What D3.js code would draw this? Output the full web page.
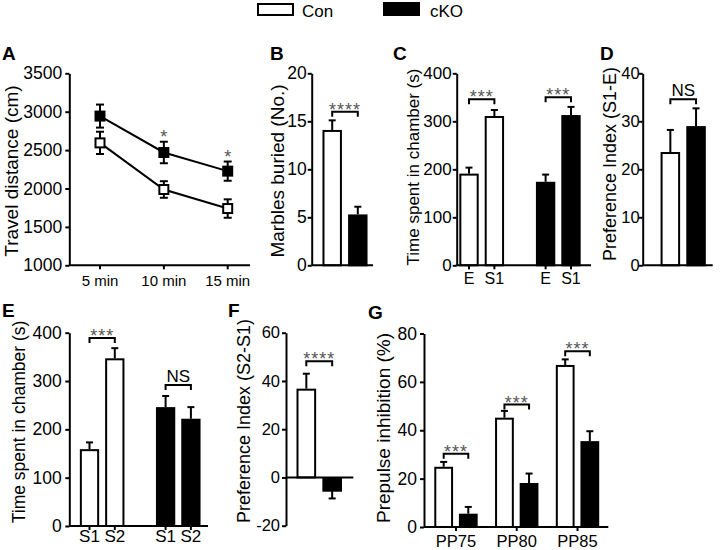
<!DOCTYPE html>
<html>
<head>
<meta charset="utf-8">
<script src="https://cdn.jsdelivr.net/npm/d3@7"></script>
<style>
  body { margin: 0; background: #fff; }
  svg { display: block; font-family: "Liberation Sans", Arial, sans-serif; }
</style>
</head>
<body>
<div id="chart"></div>
<script>
// ---- data ----
const groups = ['Con', 'cKO'];

// A: open field travel distance
const timeLabels = ['5 min', '10 min', '15 min'];
const travelCon = [2594, 1987, 1739];
const travelConErr = [145, 108, 120];
const travelCko = [2943, 2469, 2226];
const travelCkoErr = [150, 140, 125];
const travelStars = [null, 2725, 2464];
const travelTicks = [1000, 1500, 2000, 2500, 3000, 3500];

// B: marble burying
const marbles = [14.1, 5.3];
const marblesErr = [1.0, 0.8];
const marbleTicks = [0, 5, 10, 15, 20];

// C: sociability (empty vs stranger 1)
const chamberLabels = ['E', 'S1'];
const socialCon = [191, 311];
const socialConErr = [12.5, 12.5];
const socialCko = [174, 313];
const socialCkoErr = [15, 17];
const chamberTicks = [0, 100, 200, 300, 400];

// D: preference index S1-E
const prefS1E = [23.6, 29.0];
const prefS1EErr = [4.6, 3.7];
const prefTicks = [0, 10, 20, 30, 40];

// E: social novelty (stranger 1 vs stranger 2)
const novelLabels = ['S1', 'S2'];
const noveltyCon = [159, 347];
const noveltyConErr = [14, 21];
const noveltyCko = [246, 222];
const noveltyCkoErr = [23, 24];

// F: preference index S2-S1
const prefS2S1 = [36.8, -5.5];
const prefS2S1Err = [6.2, 3.2];
const pref2Ticks = [-20, 0, 20, 40, 60];

// G: prepulse inhibition
const ppiLabels = ['PP75', 'PP80', 'PP85'];
const ppiCon = [24.9, 45.2, 67.0];
const ppiConErr = [2.0, 2.8, 2.3];
const ppiCko = [5.5, 18.2, 35.5];
const ppiCkoErr = [2.8, 3.9, 4.1];
const ppiTicks = [0, 20, 40, 60, 80];

// significance marks (value = bracket height in data units)
const sigB = [{ at: 16, text: '****' }];
const sigC = [{ group: 'Con', at: 346, text: '***' }, { group: 'cKO', at: 350, text: '***' }];
const sigD = [{ at: 34.6, text: 'NS' }];
const sigE = [{ group: 'Con', at: 389, text: '***' }, { group: 'cKO', at: 292, text: 'NS' }];
const sigF = [{ at: 48.2, text: '****' }];
const sigG = [
  { group: 'PP75', at: 30.3, text: '***' },
  { group: 'PP80', at: 50.6, text: '***' },
  { group: 'PP85', at: 72.7, text: '***' }
];

// ---- drawing ----
const svg = d3.select('#chart').append('svg').attr('width', 720).attr('height', 550);
const fills = { Con: '#fff', cKO: '#000' };
const starColor = '#555';

function leftAxis(y, x, ticks, size, gap) {
  const g = svg.append('g')
    .attr('transform', 'translate(' + x + ',0)')
    .call(d3.axisLeft(y).tickValues(ticks).tickSize(4).tickPadding(gap - 4)
      .tickSizeOuter(0).tickFormat(d => String(d)));
  g.attr('font-family', null).attr('font-size', size);
  g.select('.domain').attr('stroke-width', 2);
  g.selectAll('.tick line').attr('stroke-width', 2);
  g.selectAll('.tick text').attr('fill', '#000');
}

function hLine(x1, x2, y) {
  svg.append('line').attr('x1', x1).attr('x2', x2).attr('y1', y).attr('y2', y)
    .attr('stroke', '#000').attr('stroke-width', 2);
}

function xLabels(items, y, size) {
  svg.append('g').selectAll('line').data(items).enter().append('line')
    .attr('x1', d => d.x).attr('x2', d => d.x)
    .attr('y1', d => d.y0).attr('y2', d => d.y0 + 4)
    .attr('stroke', '#000').attr('stroke-width', 2);
  svg.append('g').selectAll('text').data(items).enter().append('text')
    .attr('x', d => d.x).attr('y', y)
    .attr('text-anchor', 'middle').attr('font-size', size)
    .text(d => d.text);
}

function yTitle(text, cx, cy, size) {
  svg.append('text')
    .attr('transform', 'translate(' + cx + ',' + cy + ') rotate(-90)')
    .attr('text-anchor', 'middle').attr('dy', '0.35em')
    .attr('font-size', size).text(text);
}

function panelLetter(t, x, y) {
  svg.append('text').attr('x', x).attr('y', y)
    .attr('font-size', 19).attr('font-weight', 'bold').text(t);
}

function bars(items, y) {
  const g = svg.append('g');
  const tip = d => y(d.v < 0 ? d.v - d.err : d.v + d.err);
  g.selectAll('line.err').data(items).enter().append('line')
    .attr('class', 'err')
    .attr('x1', d => d.x + d.w / 2).attr('x2', d => d.x + d.w / 2)
    .attr('y1', d => y(d.v)).attr('y2', tip)
    .attr('stroke', '#000').attr('stroke-width', 2);
  g.selectAll('line.cap').data(items).enter().append('line')
    .attr('class', 'cap')
    .attr('x1', d => d.x + d.w / 2 - 3.5).attr('x2', d => d.x + d.w / 2 + 3.5)
    .attr('y1', tip).attr('y2', tip)
    .attr('stroke', '#000').attr('stroke-width', 2);
  g.selectAll('rect').data(items).enter().append('rect')
    .attr('x', d => d.x + 1).attr('width', d => d.w - 2)
    .attr('y', d => Math.min(y(d.v), y(0)) + 1)
    .attr('height', d => Math.abs(y(0) - y(d.v)) - 1)
    .attr('fill', d => d.fill).attr('stroke', '#000').attr('stroke-width', 2);
}

function brackets(items, y) {
  const g = svg.append('g');
  g.selectAll('path').data(items).enter().append('path')
    .attr('d', d => 'M' + d.x1 + ',' + (y(d.at) + 5) + 'V' + y(d.at) + 'H' + d.x2 + 'V' + (y(d.at) + 5))
    .attr('fill', 'none').attr('stroke', '#000').attr('stroke-width', 2);
  g.selectAll('text').data(items).enter().append('text')
    .attr('x', d => (d.x1 + d.x2) / 2)
    .attr('y', d => d.text === 'NS' ? y(d.at) - 3 : y(d.at) + 4)
    .attr('text-anchor', 'middle')
    .attr('font-size', d => d.text === 'NS' ? 17 : 18)
    .attr('letter-spacing', d => d.text === 'NS' ? 0 : 1)
    .attr('fill', d => d.text === 'NS' ? '#000' : starColor)
    .text(d => d.text);
}

function pairScale(domain, r0, r1, p) {
  return d3.scaleBand().domain(domain).range([r0, r1]).paddingInner(p).paddingOuter(p / 2);
}

// ---- legend ----
svg.append('rect').attr('x', 258).attr('y', 4).attr('width', 35).attr('height', 11)
  .attr('fill', '#fff').attr('stroke', '#000').attr('stroke-width', 2);
svg.append('text').attr('x', 302).attr('y', 17).attr('font-size', 17).text('Con');
svg.append('rect').attr('x', 384).attr('y', 3).attr('width', 35).attr('height', 12)
  .attr('fill', '#000').attr('stroke', '#000').attr('stroke-width', 2);
svg.append('text').attr('x', 430).attr('y', 17).attr('font-size', 17).text('cKO');

// ---- A ----
{
  const y = d3.scaleLinear().domain([1000, 3500]).range([265.3, 73.3]);
  const x = d3.scalePoint().domain(timeLabels).range([100, 227.7]);
  panelLetter('A', 2, 60);
  leftAxis(y, 69.3, travelTicks, 17.5, 7);
  hLine(69.3, 250, y(1000));
  xLabels(timeLabels.map(t => ({ x: x(t), y0: y(1000), text: t })), 286, 15);
  yTitle('Travel distance (cm)', 11, 171, 19);

  const series = [
    { name: 'Con', v: travelCon, e: travelConErr },
    { name: 'cKO', v: travelCko, e: travelCkoErr }
  ];
  const line = d3.line().x((d, i) => x(timeLabels[i])).y(d => y(d));
  series.forEach(s => {
    const g = svg.append('g');
    const pts = s.v.map((v, i) => ({ x: x(timeLabels[i]), v, e: s.e[i] }));
    g.selectAll('line.err').data(pts).enter().append('line')
      .attr('x1', d => d.x).attr('x2', d => d.x)
      .attr('y1', d => y(d.v - d.e)).attr('y2', d => y(d.v + d.e))
      .attr('stroke', '#000').attr('stroke-width', 2);
    g.selectAll('line.capT').data(pts).enter().append('line')
      .attr('x1', d => d.x - 4).attr('x2', d => d.x + 4)
      .attr('y1', d => y(d.v + d.e)).attr('y2', d => y(d.v + d.e))
      .attr('stroke', '#000').attr('stroke-width', 2);
    g.selectAll('line.capB').data(pts).enter().append('line')
      .attr('x1', d => d.x - 4).attr('x2', d => d.x + 4)
      .attr('y1', d => y(d.v - d.e)).attr('y2', d => y(d.v - d.e))
      .attr('stroke', '#000').attr('stroke-width', 2);
    g.append('path').datum(s.v).attr('d', line)
      .attr('fill', 'none').attr('stroke', '#000').attr('stroke-width', 2);
    g.selectAll('rect').data(pts).enter().append('rect')
      .attr('x', d => d.x - 4.5).attr('y', d => y(d.v) - 4.5)
      .attr('width', 9).attr('height', 9)
      .attr('fill', fills[s.name]).attr('stroke', '#000').attr('stroke-width', 2);
  });
  svg.append('g').selectAll('text')
    .data(travelStars.map((v, i) => ({ v, t: timeLabels[i] })).filter(d => d.v !== null))
    .enter().append('text')
    .attr('x', d => x(d.t)).attr('y', d => y(d.v) + 10)
    .attr('text-anchor', 'middle').attr('font-size', 18).attr('fill', starColor)
    .text('*');
}

// ---- B ----
{
  const y = d3.scaleLinear().domain([0, 20]).range([265.3, 73.3]);
  const x = pairScale(groups, 319.4, 370.6, 0.24);
  panelLetter('B', 270, 60);
  leftAxis(y, 311.7, marbleTicks, 17.5, 5);
  yTitle('Marbles buried (No.)', 277, 171, 19);
  bars(groups.map((k, i) => ({ x: x(k), w: x.bandwidth(), v: marbles[i], err: marblesErr[i], fill: fills[k] })), y);
  hLine(311.7, 373, y(0));
  brackets(sigB.map(s => ({
    x1: x('Con') + x.bandwidth() / 2, x2: x('cKO') + x.bandwidth() / 2, at: s.at, text: s.text
  })), y);
}

// ---- C ----
{
  const y = d3.scaleLinear().domain([0, 400]).range([265.3, 73.3]);
  const x0 = pairScale(groups, 443.4, 596.6, 0.416);
  const x1 = d3.scaleBand().domain(chamberLabels).range([0, x0.bandwidth()]).paddingInner(0.237);
  const cx = (g, c) => x0(g) + x1(c) + x1.bandwidth() / 2;
  panelLetter('C', 393, 60);
  leftAxis(y, 456.7, chamberTicks, 17, 5);
  yTitle('Time spent in chamber (s)', 413, 167, 17);
  const vals = { Con: [socialCon, socialConErr], cKO: [socialCko, socialCkoErr] };
  const items = [];
  groups.forEach(g => chamberLabels.forEach((c, i) => items.push({
    x: x0(g) + x1(c), w: x1.bandwidth(), v: vals[g][0][i], err: vals[g][1][i], fill: fills[g]
  })));
  bars(items, y);
  hLine(456.7, 591, y(0));
  const labs = [];
  groups.forEach(g => chamberLabels.forEach(c => labs.push({ x: cx(g, c), y0: y(0), text: c })));
  xLabels(labs, 283.5, 16);
  brackets(sigC.map(s => ({
    x1: cx(s.group, 'E'), x2: cx(s.group, 'S1'), at: s.at, text: s.text
  })), y);
}

// ---- D ----
{
  const y = d3.scaleLinear().domain([0, 40]).range([265.3, 73.3]);
  const x = pairScale(groups, 657.5, 708.9, 0.24);
  panelLetter('D', 600, 60);
  leftAxis(y, 642.7, prefTicks, 16.5, 3);
  yTitle('Preference Index (S1-E)', 610, 164, 18);
  bars(groups.map((k, i) => ({ x: x(k), w: x.bandwidth(), v: prefS1E[i], err: prefS1EErr[i], fill: fills[k] })), y);
  hLine(642.7, 712.7, y(0));
  brackets(sigD.map(s => ({
    x1: x('Con') + x.bandwidth() / 2, x2: x('cKO') + x.bandwidth() / 2, at: s.at, text: s.text
  })), y);
}

// ---- E ----
{
  const y = d3.scaleLinear().domain([0, 400]).range([526, 332.7]);
  const x0 = pairScale(groups, 64.1, 216.3, 0.414);
  const x1 = d3.scaleBand().domain(novelLabels).range([0, x0.bandwidth()]).paddingInner(0.237);
  const cx = (g, c) => x0(g) + x1(c) + x1.bandwidth() / 2;
  panelLetter('E', 2, 317);
  leftAxis(y, 69.3, chamberTicks, 17.5, 7.5);
  yTitle('Time spent in chamber (s)', 18.5, 422, 17.5);
  const vals = { Con: [noveltyCon, noveltyConErr], cKO: [noveltyCko, noveltyCkoErr] };
  const items = [];
  groups.forEach(g => novelLabels.forEach((c, i) => items.push({
    x: x0(g) + x1(c), w: x1.bandwidth(), v: vals[g][0][i], err: vals[g][1][i], fill: fills[g]
  })));
  bars(items, y);
  hLine(69.3, 208, y(0));
  const labs = [];
  groups.forEach(g => novelLabels.forEach(c => labs.push({ x: cx(g, c), y0: y(0), text: c })));
  xLabels(labs, 542, 17);
  brackets(sigE.map(s => ({
    x1: cx(s.group, 'S1'), x2: cx(s.group, 'S2'), at: s.at, text: s.text
  })), y);
}

// ---- F ----
{
  const y = d3.scaleLinear().domain([-20, 60]).range([525.7, 332.7]);
  const x = pairScale(groups, 293.4, 345.1, 0.24);
  panelLetter('F', 228, 317);
  leftAxis(y, 286, pref2Ticks, 16.5, 6);
  yTitle('Preference Index (S2-S1)', 244, 421, 18);
  bars(groups.map((k, i) => ({ x: x(k), w: x.bandwidth(), v: prefS2S1[i], err: prefS2S1Err[i], fill: fills[k] })), y);
  hLine(286, 353.3, y(0));
  brackets(sigF.map(s => ({
    x1: x('Con') + x.bandwidth() / 2, x2: x('cKO') + x.bandwidth() / 2, at: s.at, text: s.text
  })), y);
}

// ---- G ----
{
  const y = d3.scaleLinear().domain([0, 80]).range([527, 333.5]);
  const x0 = pairScale(ppiLabels, 425.6, 607.9, 0.286);
  const x1 = d3.scaleBand().domain(groups).range([0, x0.bandwidth()]).paddingInner(0.237);
  const cx = (g, k) => x0(g) + x1(k) + x1.bandwidth() / 2;
  panelLetter('G', 368, 319);
  leftAxis(y, 424, ppiTicks, 17.5, 7);
  yTitle('Prepulse inhibition (%)', 383, 428, 19);
  const vals = { Con: [ppiCon, ppiConErr], cKO: [ppiCko, ppiCkoErr] };
  const items = [];
  ppiLabels.forEach((p, i) => groups.forEach(k => items.push({
    x: x0(p) + x1(k), w: x1.bandwidth(), v: vals[k][0][i], err: vals[k][1][i], fill: fills[k]
  })));
  bars(items, y);
  hLine(424, 608.3, y(0));
  xLabels(ppiLabels.map(p => ({ x: x0(p) + x0.bandwidth() / 2, y0: y(0), text: p })), 547, 16.5);
  brackets(sigG.map(s => ({
    x1: cx(s.group, 'Con'), x2: cx(s.group, 'cKO'), at: s.at, text: s.text
  })), y);
}
</script>
</body>
</html>
